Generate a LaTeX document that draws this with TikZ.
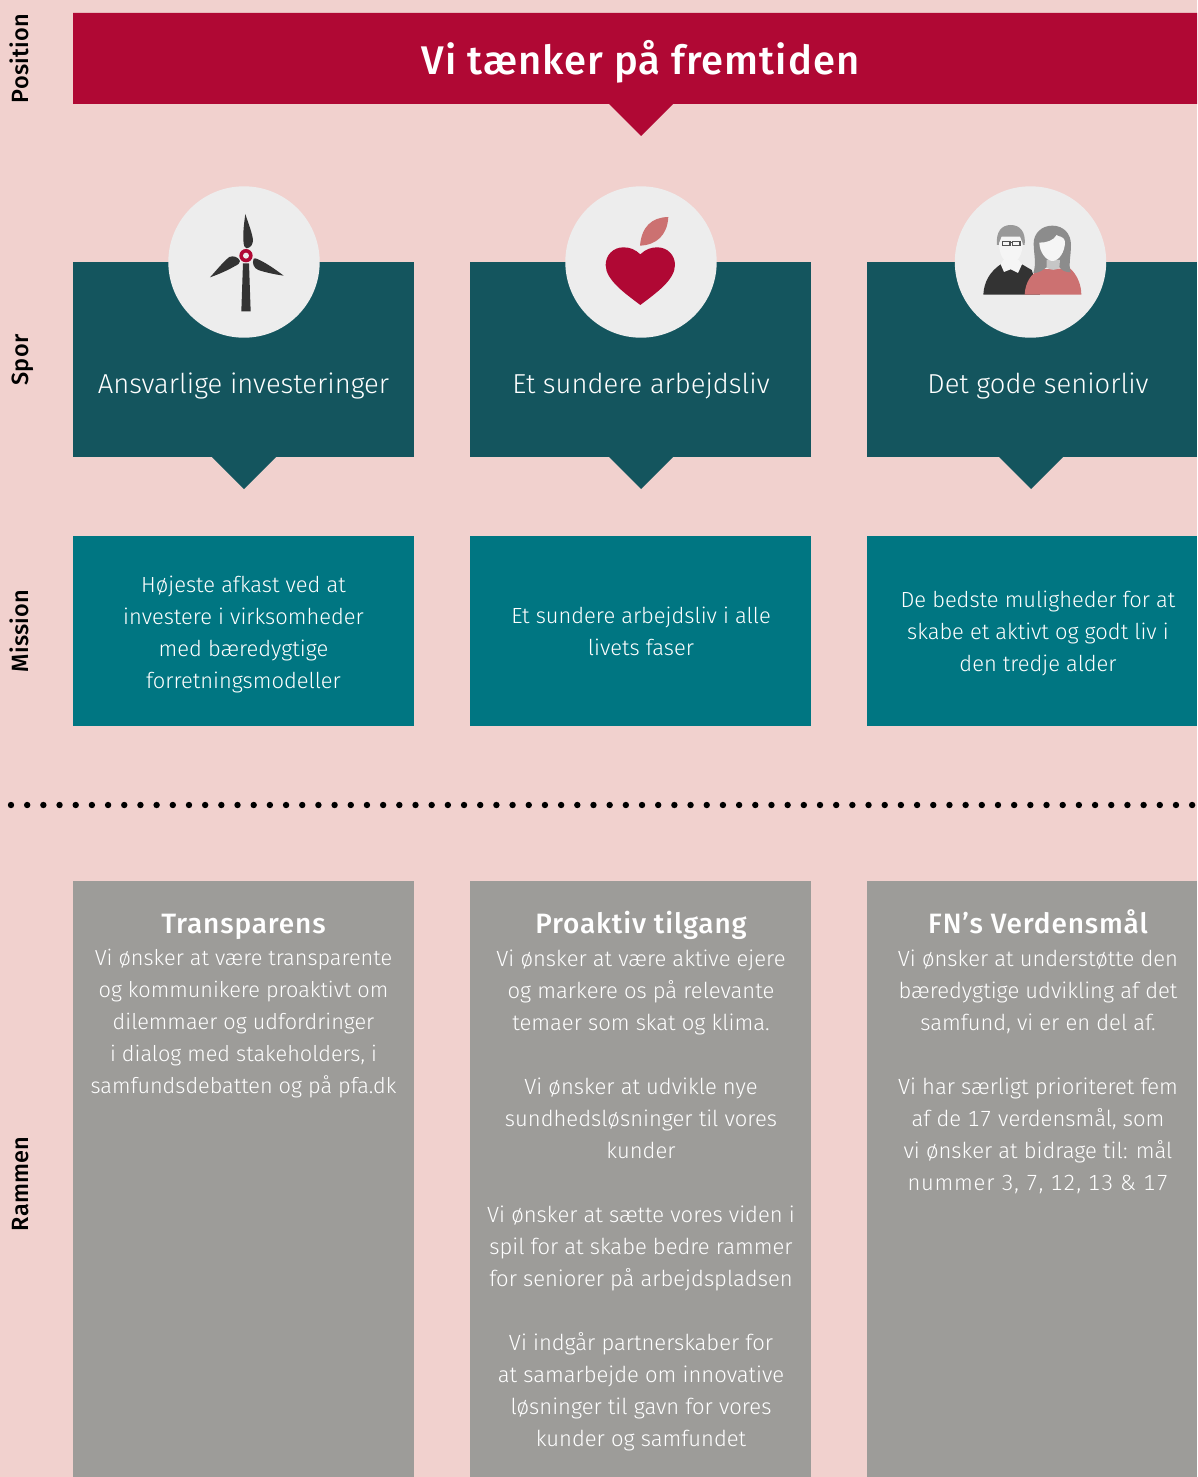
\documentclass[tikz,border=0pt]{standalone}
\usepackage{fontspec}
\setmainfont{Fira Sans Light}[BoldFont={Fira Sans Medium},Numbers=Tabular]
\newfontfamily\titlefont{Fira Sans Medium}[LetterSpace=2.5]
\newfontfamily\headfont{Fira Sans Medium}[LetterSpace=3]
\newfontfamily\sidefont{Fira Sans Medium}[LetterSpace=1]
\definecolor{bgc}{HTML}{F1D1CE}
\definecolor{crim}{HTML}{B00834}
\definecolor{dteal}{HTML}{14555E}
\definecolor{mteal}{HTML}{007682}
\definecolor{gbox}{HTML}{9D9C99}
\definecolor{circ}{HTML}{EDEDED}
\definecolor{darkg}{HTML}{333333}
\definecolor{pinkc}{HTML}{CC7171}
\tikzset{
 side/.style={rotate=90,anchor=base,font=\fontsize{23.5}{26}\sidefont,text=black,inner sep=0pt},
 sporlabel/.style={text=white,anchor=base,font=\fontsize{27.4}{32}\selectfont,inner sep=0pt},
 body/.style={text=white,align=center,inner sep=0pt,font=\fontsize{21.9}{32}\selectfont},
 grey/.style={text=white,align=center,inner sep=0pt,anchor=north,font=\fontsize{22}{32}\selectfont},
 headl/.style={text=white,anchor=base,inner sep=0pt,font=\fontsize{28}{32}\headfont},
 icon/.style={fill=circ,draw=none},
}
\begin{document}
\begin{tikzpicture}[x=1pt,y=-1pt]
\useasboundingbox (0,0) rectangle (1197,1477);
\fill[bgc] (0,0) rectangle (1197,1477);
\begin{scope}
\clip (0,0) rectangle (1197,1477);
% position banner
\fill[crim] (73,13) -- (1197,13) -- (1197,104) -- (673,104) -- (641,136) -- (609,104) -- (73,104) -- cycle;
\node[text=white,anchor=base,inner sep=0pt,font=\fontsize{40}{44}\titlefont] (title) at (640.5,74.7) {Vi tænker på fremtiden};
% spor boxes
\fill[dteal] (73,262) rectangle (414,457);
\fill[dteal] (212,457) -- (276,457) -- (244,489) -- cycle;
\fill[dteal] (470,262) rectangle (811,457);
\fill[dteal] (609,457) -- (673,457) -- (641,489) -- cycle;
\fill[dteal] (867,262) rectangle (1197,457);
\fill[dteal] (999,457) -- (1063,457) -- (1031,489) -- cycle;
% circles
\fill[icon] (244,262) circle (75.7);
\fill[icon] (641,262) circle (75.7);
\fill[icon] (1030.5,262) circle (75.7);
% turbine
\begin{scope}[shift={(150,180)},x=0.3333pt,y=-0.3333pt]
\fill[darkg] (279,250) -- (297,250) -- (302,394) -- (274,394) -- cycle;
\fill[darkg] (286,102) .. controls (295,130) and (307,160) .. (309,180) .. controls (309,192) and (303,203) .. (290,205) .. controls (284,205) and (281,198) .. (280,180) .. controls (279,150) and (283,125) .. (286,102) -- cycle;
\fill[darkg] (180,292) .. controls (200,270) and (222,243) .. (238,231) .. controls (250,226) and (265,231) .. (270,243) .. controls (271,250) and (265,253) .. (250,261) .. controls (225,275) and (200,285) .. (180,292) -- cycle;
\fill[darkg] (401,287) .. controls (378,284) and (345,277) .. (325,270) .. controls (312,265) and (305,250) .. (311,236) .. controls (316,233) and (325,238) .. (340,246) .. controls (362,258) and (385,275) .. (401,287) -- cycle;
\fill[crim] (288,227) circle (20);
\fill[circ] (288,227) circle (9);
\end{scope}
% apple
\begin{scope}[shift={(550,180)},x=0.3333pt,y=-0.3333pt]
\fill[pinkc] (355,111) .. controls (305,112) and (275,140) .. (270,197) .. controls (320,195) and (352,165) .. (355,111) -- cycle;
\fill[crim] (271,223) .. controls (255,208) and (240,202) .. (220,202) .. controls (190,202) and (167,225) .. (167,255) .. controls (167,300) and (225,340) .. (271,375) .. controls (317,340) and (375,300) .. (375,255) .. controls (375,225) and (352,202) .. (322,202) .. controls (302,202) and (287,208) .. (271,223) -- cycle;
\end{scope}
% people
\begin{scope}[shift={(940,180)},x=0.3333pt,y=-0.3333pt]
\fill[darkg] (130,344) .. controls (132,305) and (150,275) .. (182,253) -- (246,253) -- (275,270) -- (300,344) -- cycle;
\fill[white!96!black] (182,253) -- (190,240) -- (236,240) -- (246,253) -- (234,279) -- (212,268) -- (192,276) -- cycle;
\fill[gray!80] (171,195) .. controls (167,155) and (185,135) .. (212,135) .. controls (240,135) and (258,155) .. (254,195) -- (248,195) -- (240,172) -- (185,172) -- (177,195) -- cycle;
\fill[white!96!black] (177,190) -- (185,170) -- (240,170) -- (248,190) .. controls (248,220) and (235,249) .. (212,249) .. controls (190,249) and (177,220) .. (177,190) -- cycle;
\draw[darkg!85,line width=1.6pt] (187,184) rectangle (210,197);
\draw[darkg!85,line width=1.6pt] (217,184) rectangle (240,197);
\draw[darkg!85,line width=1.6pt] (210,188) -- (217,188);
\fill[pinkc] (254,344) .. controls (256,305) and (275,280) .. (300,268) -- (390,265) .. controls (412,285) and (424,315) .. (424,344) -- cycle;
\fill[gray!90] (337,137) .. controls (370,137) and (393,160) .. (393,195) .. controls (393,225) and (385,255) .. (392,277) .. controls (375,277) and (365,270) .. (358,262) -- (320,262) .. controls (305,272) and (295,280) .. (280,279) .. controls (290,250) and (281,220) .. (281,190) .. controls (281,160) and (305,137) .. (337,137) -- cycle;
\fill[gray!45] (320,240) -- (360,240) -- (358,262) .. controls (350,272) and (330,272) .. (320,262) -- cycle;
\fill[white!96!black] (298,188) .. controls (320,188) and (340,182) .. (350,165) .. controls (355,172) and (370,165) .. (375,185) .. controls (375,215) and (358,242) .. (338,243) .. controls (318,243) and (298,215) .. (298,188) -- cycle;
\end{scope}
% dots
\foreach \i in {0,...,73}{\fill[black] ({11+16.18*\i},805) circle (3.2);}
% mission boxes
\fill[mteal] (73,536) rectangle (414,726);
\fill[mteal] (470,536) rectangle (811,726);
\fill[mteal] (867,536) rectangle (1197,726);
% grey boxes
\fill[gbox] (73,881) rectangle (414,1477);
\fill[gbox] (470,881) rectangle (811,1477);
\fill[gbox] (867,881) rectangle (1197,1477);
\end{scope}
% side labels
\node[side] (lpos) at (28,58.5) {Position};
\node[side] (lspor) at (28,360) {Spor};
\node[side] (lmis) at (28,631) {Mission};
\node[side] (lram) at (28,1184) {Rammen};
% spor labels
\node[sporlabel] (s1) at (243.5,393) {Ansvarlige investeringer};
\node[sporlabel] (s2) at (641,393) {Et sundere arbejdsliv};
\node[sporlabel] (s3) at (1038,393) {Det gode seniorliv};
% mission text
\node[body] (m1) at (243.5,634) {Højeste afkast ved at\\investere i virksomheder\\med bæredygtige\\forretningsmodeller};
\node[body] (m2) at (641,631.3) {Et sundere arbejdsliv i alle\\livets faser};
\node[body] (m3) at (1038,633.5) {De bedste muligheder for at\\skabe et aktivt og godt liv i\\den tredje alder};
% rammen
\node[headl] (h1) at (243.5,933) {Transparens};
\node[headl] (h2) at (641,933) {Proaktiv tilgang};
\node[headl] (h3) at (1038,933) {FN’s Verdensmål};
\node[grey,font=\fontsize{21.7}{32}\selectfont] (b1) at (243.5,949) {Vi ønsker at være transparente\\og kommunikere proaktivt om\\dilemmaer og udfordringer\\i dialog med stakeholders, i\\samfundsdebatten og på pfa.dk};
\node[grey] (b2) at (641,949.5) {Vi ønsker at være aktive ejere\\og markere os på relevante\\temaer som skat og klima.\\[32pt]Vi ønsker at udvikle nye\\sundhedsløsninger til vores\\kunder\\[32pt]Vi ønsker at sætte vores viden i\\spil for at skabe bedre rammer\\for seniorer på arbejdspladsen\\[32pt]Vi indgår partnerskaber for\\at samarbejde om innovative\\løsninger til gavn for vores\\kunder og samfundet};
\node[grey] (b3) at (1038,949.5) {Vi ønsker at understøtte den\\bæredygtige udvikling af det\\samfund, vi er en del af.\\[32pt]Vi har særligt prioriteret fem\\af de 17 verdensmål, som\\vi ønsker at bidrage til: mål\\{\addfontfeature{LetterSpace=3.4}nummer 3, 7, 12, 13 \& 17}};
\end{tikzpicture}
\end{document}
